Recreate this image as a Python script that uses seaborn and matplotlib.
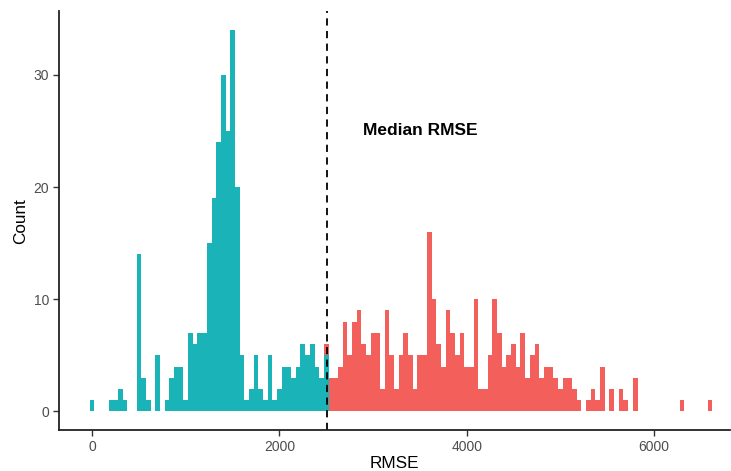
import numpy as np
import pandas as pd
import matplotlib
matplotlib.use("Agg")
import matplotlib.pyplot as plt
import seaborn as sns

# ---- data (bin width 50, bins centred on multiples of 50) ----
binwidth = 50
# counts below the median, bins centred at 0, 50, ..., 2500
below_counts = [1, 0, 0, 0, 1, 1, 2, 1, 0, 0,
                14, 3, 1, 0, 5, 0, 1, 3, 4, 4,
                1, 7, 6, 7, 7, 15, 19, 24, 30, 25,
                34, 20, 5, 1, 2, 5, 2, 1, 5, 1,
                2, 4, 4, 3, 4, 6, 5, 6, 4, 3,
                5]
# counts above the median, bins centred at 2500, 2550, ..., 6600
above_counts = [1, 3, 3, 4, 8, 5, 8, 9, 6, 5,
                7, 7, 2, 9, 5, 2, 5, 7, 5, 2,
                5, 5, 16, 10, 6, 4, 9, 7, 5, 7,
                4, 4, 10, 2, 2, 5, 10, 7, 4, 5,
                6, 4, 7, 3, 5, 6, 3, 4, 4, 3,
                2, 3, 3, 2, 1, 0, 1, 2, 1, 4,
                0, 2, 0, 2, 1, 0, 3, 0, 0, 0,
                0, 0, 0, 0, 0, 0, 1, 0, 0, 0,
                0, 0, 1]
below_start = 0
above_start = 2500
median_rmse = 2510
x_ticks = [0, 2000, 4000, 6000]
y_ticks = [0, 10, 20, 30]
annot_text = "Median RMSE"

rows = []
for i, c in enumerate(below_counts):
    rows.append({"RMSE": below_start + i * binwidth, "n": c, "grp": "below"})
for i, c in enumerate(above_counts):
    rows.append({"RMSE": above_start + i * binwidth, "n": c, "grp": "above"})
df = pd.DataFrame(rows)

sns.set_theme(style="white")
plt.rcParams["font.family"] = ["Liberation Sans", "DejaVu Sans"]

fig = plt.figure(figsize=(7.31, 4.71), dpi=100)
ax = fig.add_axes([0.0803, 0.086, 0.918, 0.891])

palette = {"below": "#1AB4B8", "above": "#F3605C"}
sns.histplot(data=df, x="RMSE", weights="n", hue="grp", hue_order=["above", "below"],
             multiple="stack", binwidth=binwidth, binrange=(-25, 6625),
             palette=palette, alpha=1, linewidth=0, legend=False, ax=ax)

ax.axvline(median_rmse, color="black", linestyle=(0, (4, 3)), linewidth=1.3)
ax.text(median_rmse + 990, 25, annot_text, ha="center", va="center",
        fontsize=12.5, fontweight="bold", color="black")

ax.set_xlim(-357, 6810)
ax.set_ylim(-1.7, 35.7)
ax.set_xticks(x_ticks)
ax.set_yticks(y_ticks)
ax.set_xlabel("RMSE", fontsize=12.3, color="black", labelpad=1)
ax.set_ylabel("Count", fontsize=12.3, color="black", labelpad=4)
ax.tick_params(axis="both", labelsize=10, labelcolor="#4D4D4D", colors="#333333",
               length=4, width=1, direction="out", bottom=True, left=True, pad=3)
for s in ["top", "right"]:
    ax.spines[s].set_visible(False)
for s in ["left", "bottom"]:
    ax.spines[s].set_color("#222222")
    ax.spines[s].set_linewidth(1.3)
ax.grid(False)

fig.savefig("out.png", dpi=100)
